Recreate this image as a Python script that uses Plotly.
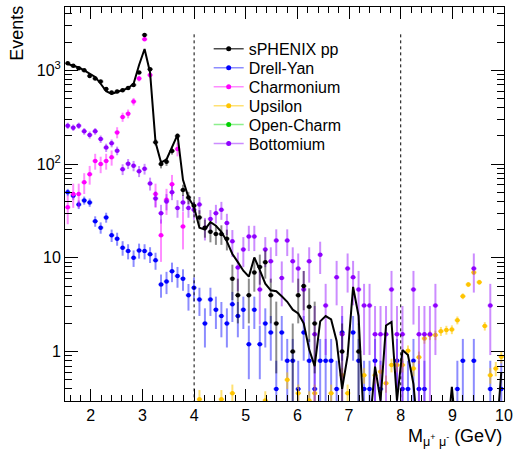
import numpy as np
import plotly.graph_objects as go

# ---------------- binning (80 bins from 1.5 to 10 GeV) ----------------
edges = np.linspace(1.5, 10.0, 81)
mass = 0.5 * (edges[:-1] + edges[1:])
half_bin = 0.5 * (edges[1] - edges[0])
N = None

# ---------------- series values ----------------
sphenix_pp = [1190, 1117, 1055, 1000, 873, 820, 760, 631, 580, 595,
              615, 647, 700, 948, 2390, 1030, 171, 100, 106, 138,
              200, 53, 44, 36, 27, 21, 19, 18, 18, 16,
              6, 4, N, 4, 7, 8, 9, 4, 2, N,
              N, 1, 4, 5, 3, 2, N, N, N, N,
              1, N, N, 1, N, N, N, N, N, N,
              N, N, N, N, N, N, N, N, N, N,
              N, N, N, N, N, N, N, N, N, N]

fit_curve = [1170, 1120, 1075, 1000, 930, 850, 720, 600, 560, 590,
             615, 645, 720, 1140, 1690, 950, 171, 104, 112, 150,
             205, 68, 44, 35, 21, 20, 24, 22, 19, 15,
             11, 9, 7.3, 6.3, 10.1, 7.4, 5.3, 4.5, 4.4, 3.9,
             3.4, 2.8, 2.55, 2.0, 1.05, 0.7, 2.1, 2.39, 2.2, 1.3,
             0.4, 0.9, 4.9, 2.4, 0.15, 0.15, 0.69, 0.3, 1.9, 2.07,
             0.3, 1.04, 0.92, 0.45, 0.1, 0.1, 0.1, 0.1, 0.1, 0.1,
             0.42, 0.1, 0.1, 0.1, 0.1, 0.1, 0.1, 0.1, 0.1, 0.6]

drell_yan = [50, 46, 37, 41, 39, 24.6, 21, 27, 17.4, 16,
             12.8, 11.8, 10, 12, 11.8, 10.9, 9.4, 5.2, 5.6, 7.2,
             6.4, 6.0, 4.0, 4.8, 3.6, 2.0, 3.6, 2.8, 2.4, 2.0,
             3.2, 2.4, 2.8, 1.2, 2.8, 1.2, 2.0, 1.6, 0.4, 1.6,
             0.8, 0.8, 0.4, 1.6, 0.8, 0.4, 0.8, 0.8, 0.8, 0.4,
             1.6, N, 1.6, 0.8, 0.4, 0.4, 0.8, 0.4, N, N,
             0.8, 0.4, 0.4, 0.8, 0.4, 0.4, N, N, N, N,
             N, 0.4, 0.8, N, 0.8, N, N, 0.4, N, 0.4]

charmonium = [34.6, 48, 48, 64, 78, 108, 100, 108, 118, 218,
              318, 345, 465, 820, 2150, 890, 48, 17.4, 41.6, 61,
              145, 21.6, N, N, N, N, N, N, N, N,
              N, N, N, N, N, N, N, N, N, N,
              N, N, N, N, N, N, N, N, N, N,
              N, N, N, N, N, N, N, N, N, N,
              N, N, N, N, N, N, N, N, N, N,
              N, N, N, N, N, N, N, N, N, N]

upsilon = [N, N, N, N, N, N, N, N, N, N,
           N, N, N, N, N, N, N, N, N, N,
           N, N, N, N, 0.31, N, N, N, 0.31, N,
           0.36, N, N, N, N, N, 0.3, N, N, N,
           0.5, N, 0.36, N, 0.3, 0.36, N, N, 0.36, N,
           0.56, 0.36, N, N, 0.56, N, 0.56, 0.61, 0.46, 0.72,
           0.72, 0.72, 1.02, 0.66, 0.87, 1.38, 1.5, 1.5, 1.65, 1.7,
           1.72, 2.16, 3.9, 5.2, 7.0, 5.5, 1.87, 0.56, 0.66, 0.88]

open_charm = [N] * 80   # nothing visible inside the plotted range

bottomium = [257, 245, 257, 224, 205, 224, 185, 150, 167, 139,
             88, 101, 96, 84, 89, 62, 43, 30, 40, 50,
             34, 39, 34, 32.5, 37, 21, 26, 30, 32.5, 23.5,
             15, 7.9, 12.3, 16.9, 16.9, 4.6, 12.3, 9.2, 15.3, 6.1,
             15.3, 9.2, 7.7, 4.6, 9.2, 1.53, 10.8, 3.1, N, 6.2,
             1.53, 7.7, 6.2, 4.6, 3.1, 3.1, 1.53, 1.53, 1.53, 4.6,
             1.53, 1.53, N, 4.6, 1.53, 1.53, 1.53, 3.1, N, N,
             N, N, N, N, 7.7, N, N, 3.1, N, N]

# per-entry weights of each sample (error = sqrt(w * value))
weights = {"sPHENIX pp": 1.0, "Drell-Yan": 0.4, "Charmonium": 4.0,
           "Upsilon": 0.02, "Open-Charm": 1.0, "Bottomium": 1.535}

series = [
    ("Drell-Yan", drell_yan, "#0000ff", "rgba(0,0,255,0.45)"),
    ("Charmonium", charmonium, "#ff00ff", "rgba(255,0,255,0.45)"),
    ("Upsilon", upsilon, "#ffc400", "rgba(255,200,0,0.55)"),
    ("Open-Charm", open_charm, "#00d000", "rgba(0,220,0,0.45)"),
    ("Bottomium", bottomium, "#8f00ff", "rgba(143,0,255,0.45)"),
    ("sPHENIX pp", sphenix_pp, "#000000", "rgba(0,0,0,0.45)"),
]
legend_order = ["sPHENIX pp", "Drell-Yan", "Charmonium", "Upsilon",
                "Open-Charm", "Bottomium"]

FONT = "Liberation Sans, Arial, sans-serif"


def errors(vals, w):
    up, dn = [], []
    for v in vals:
        if v is None:
            up.append(None)
            dn.append(None)
        else:
            e = float(np.sqrt(w * v))
            up.append(e)
            dn.append(min(e, 0.999 * v))
    return up, dn


fig = go.Figure()

for name, vals, col, bar in series:
    up, dn = errors(vals, weights[name])
    fig.add_trace(go.Scatter(
        x=mass, y=vals, mode="markers", showlegend=False, name=name,
        marker=dict(color=col, size=4.5),
        error_y=dict(type="data", array=up, arrayminus=dn, symmetric=False,
                     color=bar, thickness=2, width=0),
        error_x=dict(type="constant", value=half_bin, color=bar,
                     thickness=2, width=0),
    ))

# total template curve
fig.add_trace(go.Scatter(x=mass, y=fit_curve, mode="lines", showlegend=False,
                         line=dict(color="black", width=2)))

# window markers at 4 and 8 GeV
for xv in (4, 8):
    fig.add_trace(go.Scatter(x=[xv, xv], y=[0.1, 2450], mode="lines",
                             showlegend=False,
                             line=dict(color="black", width=1, dash="dot")))

# legend entries, one legend per row to control spacing
info = {s[0]: s for s in series}
L, W, T, H = 65, 443, 6, 395
rows_y = [48, 67, 86, 105, 124, 143]
layout_legends = {}
for k, name in enumerate(legend_order):
    _, _, col, bar = info[name]
    lname = "legend" if k == 0 else f"legend{k + 1}"
    fig.add_trace(go.Scatter(
        x=[None], y=[None], mode="lines+markers", name=name, legend=lname,
        line=dict(color=bar if name != "sPHENIX pp" else "rgba(0,0,0,0.7)",
                  width=1.5),
        marker=dict(color=col, size=5),
    ))
    layout_legends[lname] = dict(
        x=(210 - L) / W, y=1 - (rows_y[k] - T) / H,
        xanchor="left", yanchor="middle",
        bgcolor="rgba(0,0,0,0)", borderwidth=0,
        font=dict(family=FONT, size=16, color="black"),
    )

minor_y = [m * 10.0 ** e for e in range(-1, 4) for m in range(2, 10)]

fig.update_layout(
    width=519, height=454,
    margin=dict(l=L, r=519 - L - W, t=T, b=454 - T - H),
    paper_bgcolor="white", plot_bgcolor="white",
    font=dict(family=FONT, size=16, color="black"),
    xaxis=dict(range=[1.5, 10.0], showgrid=False, zeroline=False,
               showline=True, linecolor="black", linewidth=1,
               mirror="allticks", ticks="inside", ticklen=12,
               tickcolor="black", tick0=0, dtick=1,
               tickfont=dict(family=FONT, size=16, color="black"),
               minor=dict(ticks="inside", ticklen=6, dtick=0.2, tick0=0,
                          tickcolor="black", showgrid=False)),
    yaxis=dict(type="log", range=[-0.527, 3.676], showgrid=False,
               zeroline=False, showline=True, linecolor="black", linewidth=1,
               mirror="allticks", ticks="inside", ticklen=13,
               tickcolor="black", tickmode="array",
               tickvals=[1, 10, 100, 1000],
               ticktext=["1", "10", "10<sup>2</sup>", "10<sup>3</sup>"],
               tickfont=dict(family=FONT, size=16, color="black"),
               minor=dict(tickmode="array", tickvals=minor_y, ticks="inside",
                          ticklen=7, tickcolor="black", showgrid=False)),
    annotations=[
        dict(text="Events", xref="paper", yref="paper",
             x=(17 - L) / W, y=1.008, xanchor="center", yanchor="top",
             textangle=-90, showarrow=False,
             font=dict(family=FONT, size=18, color="black")),
        dict(text="M<sub>μ<sup>+</sup> μ<sup>-</sup></sub> (GeV)",
             xref="paper", yref="paper", x=1.0, y=1 - (438 - T) / H,
             xanchor="right", yanchor="middle", showarrow=False,
             font=dict(family=FONT, size=18, color="black")),
    ],
    showlegend=True,
    **layout_legends,
)

fig.write_html("out.html")
